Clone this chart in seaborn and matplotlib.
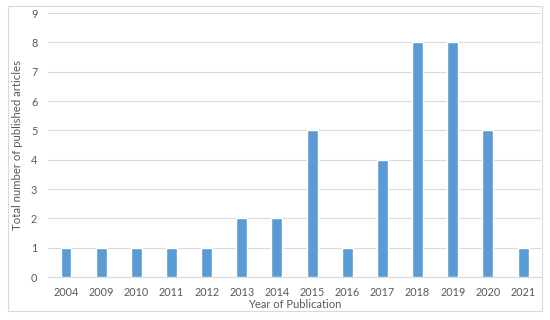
import pandas as pd
import matplotlib.pyplot as plt
import seaborn as sns
from matplotlib.patches import Rectangle

years = ['2004', '2009', '2010', '2011', '2012', '2013', '2014',
         '2015', '2016', '2017', '2018', '2019', '2020', '2021']
articles = [1, 1, 1, 1, 1, 2, 2, 5, 1, 4, 8, 8, 5, 1]

df = pd.DataFrame({'Year': years, 'Articles': articles})

sns.set_style('white')
plt.rcParams['font.family'] = ['Lato', 'DejaVu Sans']

fig = plt.figure(figsize=(5.5, 3.2), dpi=100)
ax = fig.add_axes([0.088, 0.134, 0.895, 0.825])

sns.barplot(data=df, x='Year', y='Articles', color='#5B9BD5',
            saturation=1, width=0.31, ax=ax, zorder=3)

ax.set_ylim(0, 9)
ax.set_yticks(range(0, 10))
ax.grid(axis='y', color='#d9d9d9', linewidth=0.8, zorder=0)
for s in ['top', 'right', 'left']:
    ax.spines[s].set_visible(False)
ax.spines['bottom'].set_color('#d9d9d9')
ax.tick_params(axis='x', length=0, labelsize=7.8, colors='#595959', pad=7)
ax.tick_params(axis='y', length=0, labelsize=7.8, colors='#595959', pad=8)
ax.set_xlabel('Year of Publication', fontsize=8, color='#595959', labelpad=1)
ax.set_ylabel('Total number of published articles', fontsize=8.2,
              color='#595959', labelpad=6)

fig.patches.append(Rectangle((8 / 550, 9 / 320), 534 / 550, 305 / 320,
                             transform=fig.transFigure, fill=False,
                             edgecolor='#d9d9d9', linewidth=0.8))

fig.savefig('out.png', dpi=100)
plt.close()
